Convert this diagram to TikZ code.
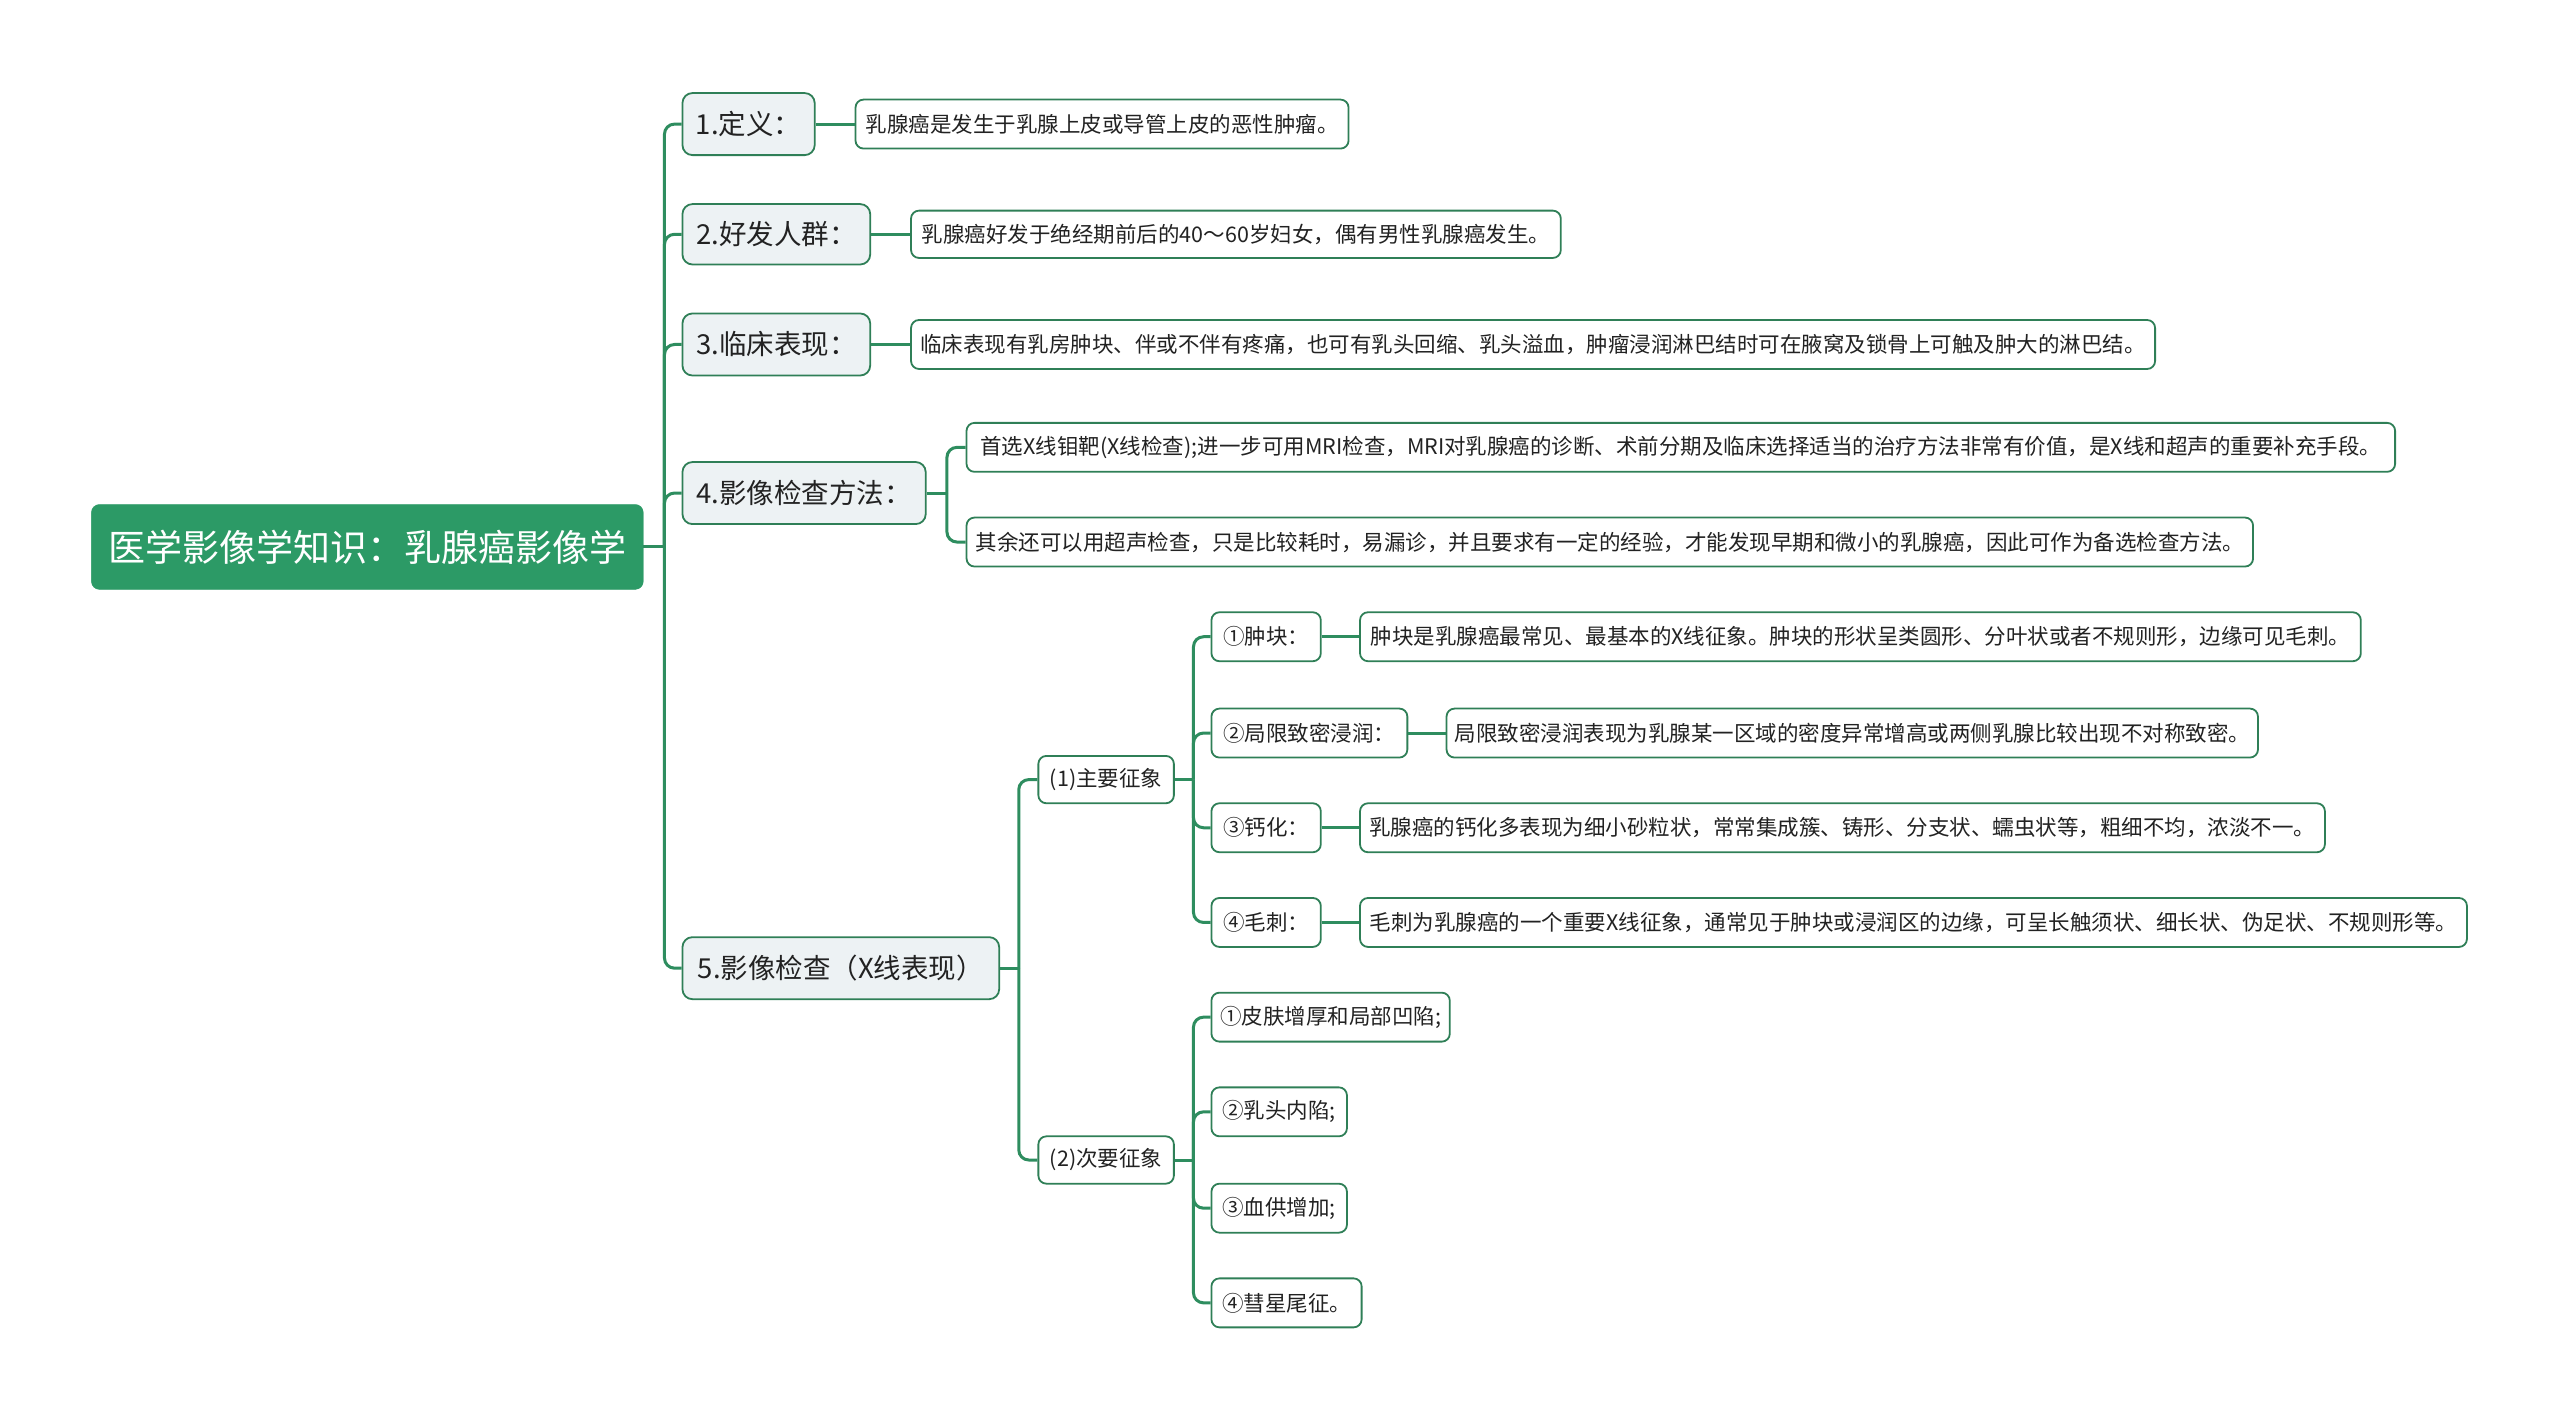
\documentclass[tikz,border=0pt]{standalone}
\usepackage{fontspec}
\newfontfamily\cjk{Noto Sans CJK SC}
\definecolor{rootc}{HTML}{2C9A66}
\definecolor{lnc}{HTML}{2E8D5F}
\definecolor{bdc}{HTML}{2F7F57}
\definecolor{l1c}{HTML}{EDF2F4}
\definecolor{txc}{HTML}{222222}
\newcommand\bx[7]{%
  \pgfmathsetmacro\bw{(#4-#2)*1.6327}%
  \pgfmathsetmacro\bh{(#5-#3)*1.6327}%
  \node[#6, minimum width=\bw pt, minimum height=\bh pt] (#1) at ({(#2+#4)/2},{(#3+#5)/2}) {#7};}
\begin{document}
\begin{tikzpicture}[x=1.6327pt,y=-1.6327pt,
  conn/.style={draw=lnc,line width=3pt},
  rconn/.style={draw=lnc,line width=3pt,rounded corners=10pt},
  rootbox/.style={fill=rootc,draw=rootc,rounded corners=8pt,text=white,font=\cjk\fontsize{37}{42}\selectfont,inner sep=0pt},
  lonebox/.style={fill=l1c,draw=bdc,line width=1.8pt,rounded corners=10pt,text=txc,font=\cjk\fontsize{27.5}{32}\selectfont,inner sep=0pt},
  leafbox/.style={fill=white,draw=bdc,line width=1.8pt,rounded corners=8pt,text=txc,font=\cjk\fontsize{21.5}{25}\selectfont,inner sep=0pt}]
\useasboundingbox (0,0) rectangle (1568,869);
% root
\bx{root}{56}{309}{394}{361}{rootbox}{医学影像学知识：乳腺癌影像学}
% level 1
\bx{n1}{418}{57}{499}{95}{lonebox}{1.定义：}
\bx{n2}{418}{125}{533}{162}{lonebox}{2.好发人群：}
\bx{n3}{418}{192}{533}{230}{lonebox}{3.临床表现：}
\bx{n4}{418}{283}{567}{321}{lonebox}{4.影像检查方法：}
\bx{n5}{418}{574}{612}{612}{lonebox}{5.影像检查（X线表现）}
% leaves level 2
\bx{l1}{524}{61}{826}{91}{leafbox}{乳腺癌是发生于乳腺上皮或导管上皮的恶性肿瘤。}
\bx{l2}{558}{129}{956}{158}{leafbox}{乳腺癌好发于绝经期前后的40～60岁妇女，偶有男性乳腺癌发生。}
\bx{l3}{558}{196}{1320}{226}{leafbox}{临床表现有乳房肿块、伴或不伴有疼痛，也可有乳头回缩、乳头溢血，肿瘤浸润淋巴结时可在腋窝及锁骨上可触及肿大的淋巴结。}
\bx{l4a}{592}{259}{1467}{289}{leafbox}{首选X线钼靶(X线检查);进一步可用MRI检查，MRI对乳腺癌的诊断、术前分期及临床选择适当的治疗方法非常有价值，是X线和超声的重要补充手段。}
\bx{l4b}{592}{317}{1380}{347}{leafbox}{其余还可以用超声检查，只是比较耗时，易漏诊，并且要求有一定的经验，才能发现早期和微小的乳腺癌，因此可作为备选检查方法。}
\bx{m1}{636}{463}{719}{492}{leafbox}{(1)主要征象}
\bx{m2}{636}{696}{719}{725}{leafbox}{(2)次要征象}
% main signs
\bx{s1}{742}{375}{809}{405}{leafbox}{①肿块：}
\bx{s2}{742}{434}{862}{464}{leafbox}{②局限致密浸润：}
\bx{s3}{742}{492}{809}{522}{leafbox}{③钙化：}
\bx{s4}{742}{550}{809}{580}{leafbox}{④毛刺：}
\bx{d1}{833}{375}{1446}{405}{leafbox}{肿块是乳腺癌最常见、最基本的X线征象。肿块的形状呈类圆形、分叶状或者不规则形，边缘可见毛刺。}
\bx{d2}{886}{434}{1383}{464}{leafbox}{局限致密浸润表现为乳腺某一区域的密度异常增高或两侧乳腺比较出现不对称致密。}
\bx{d3}{833}{492}{1424}{522}{leafbox}{乳腺癌的钙化多表现为细小砂粒状，常常集成簇、铸形、分支状、蠕虫状等，粗细不均，浓淡不一。}
\bx{d4}{833}{550}{1511}{580}{leafbox}{毛刺为乳腺癌的一个重要X线征象，通常见于肿块或浸润区的边缘，可呈长触须状、细长状、伪足状、不规则形等。}
% minor signs
\bx{t1}{742}{608}{888}{638}{leafbox}{①皮肤增厚和局部凹陷;}
\bx{t2}{742}{666}{825}{696}{leafbox}{②乳头内陷;}
\bx{t3}{742}{725}{825}{755}{leafbox}{③血供增加;}
\bx{t4}{742}{783}{834}{813}{leafbox}{④彗星尾征。}
% junctions
\coordinate (j0) at (407,335);
\coordinate (j4) at (580,302);
\coordinate (j5) at (624,593);
\coordinate (jm1) at (731,477.5);
\coordinate (jm2) at (731,710.5);
% connectors
\draw[conn] (root.east) -- (j0);
\foreach \n in {n1,n2,n3,n4,n5} \draw[rconn] (j0) |- (\n.west);
\draw[conn] (n1.east) -- (l1.west);
\draw[conn] (n2.east) -- (l2.west);
\draw[conn] (n3.east) -- (l3.west);
\draw[conn] (n4.east) -- (j4);
\foreach \n in {l4a,l4b} \draw[rconn] (j4) |- (\n.west);
\draw[conn] (n5.east) -- (j5);
\foreach \n in {m1,m2} \draw[rconn] (j5) |- (\n.west);
\draw[conn] (m1.east) -- (jm1);
\foreach \n in {s1,s2,s3,s4} \draw[rconn] (jm1) |- (\n.west);
\draw[conn] (m2.east) -- (jm2);
\foreach \n in {t1,t2,t3,t4} \draw[rconn] (jm2) |- (\n.west);
\draw[conn] (s1.east) -- (d1.west);
\draw[conn] (s2.east) -- (d2.west);
\draw[conn] (s3.east) -- (d3.west);
\draw[conn] (s4.east) -- (d4.west);
\end{tikzpicture}
\end{document}
